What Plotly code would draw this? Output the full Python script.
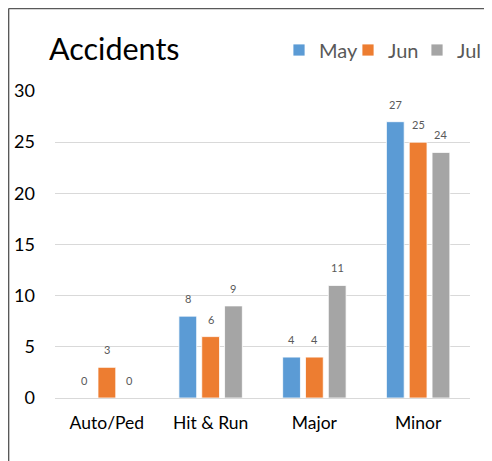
import plotly.graph_objects as go

categories = ["Auto/Ped", "Hit & Run", "Major", "Minor"]
may = [0, 8, 4, 27]
jun = [3, 6, 4, 25]
jul = [0, 9, 11, 24]
series_names = ["May", "Jun", "Jul"]
colors = ["#5B9BD5", "#ED7D31", "#A5A5A5"]
yticks = [0, 5, 10, 15, 20, 25, 30]

FONT = "Lato, 'Open Sans', sans-serif"

# page has an 8px body margin; figure coordinates are page coordinates - 8
OFF = 8
W, H = 484, 453
L, R, T, B = 55 - OFF, 22, 91 - OFF, 63
pw, ph = W - L - R, H - T - B

def px(x):
    return (x - OFF - L) / pw

def py(y):
    return (H - B - (y - OFF)) / ph

BARGAP, GROUPGAP = 0.34, 0.22
cat_w = pw / len(categories)
slot = cat_w * (1 - BARGAP) / 3
shifts = [-slot, 0, slot]

fig = go.Figure()
for name, vals, c in zip(series_names, [may, jun, jul], colors):
    fig.add_trace(go.Bar(
        x=categories, y=vals, name=name,
        marker=dict(color=c, line=dict(color="white", width=0.8)),
    ))

annotations = []
for vals, dx in zip([may, jun, jul], shifts):
    for cat, v in zip(categories, vals):
        annotations.append(dict(
            x=cat, y=v, xref="x", yref="y", text=str(v), showarrow=False,
            xshift=dx, yshift=9, yanchor="bottom", xanchor="center",
            font=dict(size=11, color="#595959", family=FONT),
        ))

fig.update_layout(
    width=W, height=H,
    margin=dict(l=L, r=R, t=T, b=B, pad=0, autoexpand=False),
    paper_bgcolor="white", plot_bgcolor="white",
    barmode="group", bargap=BARGAP, bargroupgap=GROUPGAP,
    font=dict(family=FONT, color="#000000"),
    title=dict(text="Accidents", x=(49 - OFF) / W, xanchor="left", xref="container",
               y=1 - (49 - OFF) / H, yanchor="middle", yref="container",
               font=dict(size=30.5, color="#000000", family=FONT)),
    legend=dict(orientation="h", xref="container", yref="container",
                x=(279 - OFF) / W, xanchor="left", y=1 - (50 - OFF) / H, yanchor="middle",
                font=dict(size=20, color="#595959", family=FONT),
                itemwidth=30, entrywidth=24, entrywidthmode="pixels",
                tracegroupgap=0, bgcolor="rgba(0,0,0,0)"),
    xaxis=dict(showgrid=False, showline=True, linecolor="#D9D9D9", linewidth=1,
               ticks="", ticklabelstandoff=9,
               tickfont=dict(size=17.5, color="#000000", family=FONT)),
    yaxis=dict(range=[0, 30], tickvals=yticks, showgrid=True, gridcolor="#D9D9D9",
               gridwidth=1, zeroline=False, showline=False, ticks="",
               ticklabelstandoff=19,
               tickfont=dict(size=18, color="#000000", family=FONT)),
    annotations=annotations,
    shapes=[
        dict(type="line", xref="paper", yref="paper", x0=px(8.6), x1=px(500), y0=py(8.6), y1=py(8.6),
             line=dict(color="#595959", width=1.5)),
        dict(type="line", xref="paper", yref="paper", x0=px(8.6), x1=px(8.6), y0=py(8.6), y1=py(470),
             line=dict(color="#595959", width=1.5)),
    ],
)

fig.write_html("out.html")
